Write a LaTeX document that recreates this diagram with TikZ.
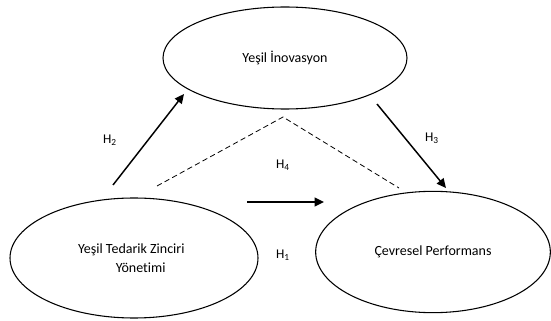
\documentclass[tikz,border=0pt]{standalone}
\usepackage{fontspec}
\setmainfont{Carlito}[Ligatures=NoCommon]
\usetikzlibrary{shapes,arrows.meta,positioning,calc}

\begin{document}
\begin{tikzpicture}[x=0.75pt, y=-0.75pt,
    konu/.style={ellipse, draw, line width=0.8pt, inner sep=0pt, align=center, font=\fontsize{10.5}{14}\selectfont},
    ok/.style={-{Triangle[length=7pt,width=6.5pt]}, line width=1.1pt},
    etiket/.style={font=\fontsize{10}{12}\selectfont}]
    \useasboundingbox (0,0) rectangle (551,321);

    \node[konu, minimum width=183pt, minimum height=76.5pt] (inov) at (285,58) {Yeşil İnovasyon};
    \node[konu, minimum width=186pt, minimum height=90pt] (ytzy) at (134,258) {Yeşil Tedarik Zinciri\hspace*{4pt}\\\hspace*{10pt}Yönetimi};
    \node[konu, minimum width=176pt, minimum height=91pt] (cevre) at (433,252) {Çevresel Performans};

    % ok uclari
    \coordinate (h2a) at (113,185);
    \coordinate (h2b) at (184,94);
    \coordinate (h3a) at (377,104);
    \coordinate (h3b) at (446,188);
    \coordinate (h1a) at (247,202);
    \coordinate (h1b) at (324,202);
    \coordinate (d1) at (157,186);
    \coordinate (d2) at (283,117);
    \coordinate (d3) at (399,188);

    \draw[ok] (h2a) -- (h2b);
    \draw[ok] (h3a) -- (h3b);
    \draw[ok] (h1a) -- (h1b);
    \draw[dashed, line width=0.6pt, dash pattern=on 4pt off 2.5pt] (d1) -- (d2) -- (d3);

    \node[etiket] (lh2) at (110,140) {H\textsubscript{2}};
    \node[etiket] (lh3) at (432,138) {H\textsubscript{3}};
    \node[etiket] (lh4) at (283,165) {H\textsubscript{4}};
    \node[etiket] (lh1) at (283,255) {H\textsubscript{1}};
\end{tikzpicture}
\end{document}
